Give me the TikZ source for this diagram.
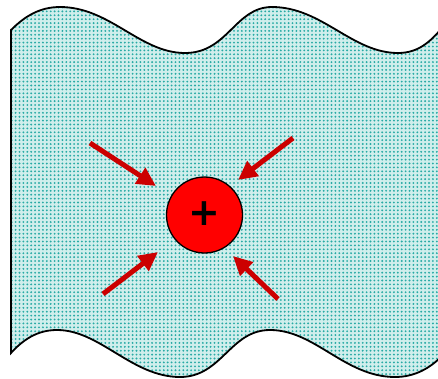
\documentclass[tikz,border=0pt]{standalone}
\usepackage{fontspec}
\newfontfamily\plusfont{DejaVu Sans Bold}
\usetikzlibrary{patterns.meta,arrows.meta}
\definecolor{dotteal}{RGB}{40,170,165}
\definecolor{paleteal}{RGB}{208,238,236}
\definecolor{arrowred}{RGB}{204,0,0}
\definecolor{ionred}{RGB}{255,0,0}
\tikzset{
  pusharrow/.style={draw=arrowred,line width=5pt,-{Triangle[length=19pt,width=18pt]},shorten >=0pt},
  waterbody/.style={preaction={fill=paleteal},pattern={Dots[distance=3.9pt,radius=1.05pt]},pattern color=dotteal,draw=black,line width=1.8pt},
  ion/.style={circle,fill=ionred,draw=black,line width=1.3pt,minimum size=76pt,inner sep=0pt}
}
\begin{document}
\begin{tikzpicture}[x=1pt,y=-1pt]
\useasboundingbox (0,0) rectangle (438,378);
\begin{scope}
\clip (0,0) rectangle (438,378);
\path[waterbody] (11,30) .. controls (25,16) and (40,7) .. (60,7)
  .. controls (110,7) and (140,53) .. (185,53)
  .. controls (228,53) and (235,7) .. (272,7)
  .. controls (322,7) and (352,53) .. (398,53)
  .. controls (418,53) and (430,42) .. (442,28)
  -- (442,356)
  .. controls (430,368) and (415,377) .. (395,377)
  .. controls (345,377) and (315,330) .. (270,330)
  .. controls (230,330) and (222,377) .. (180,377)
  .. controls (132,377) and (100,330) .. (57,330)
  .. controls (36,330) and (22,341) .. (11,353) -- cycle;
\end{scope}
\node[ion] (ion) at (204.5,215) {};
\node (plus) at (204.5,214) {\plusfont\fontsize{38}{38}\selectfont +};
\coordinate (a1s) at (90,143);
\coordinate (a1e) at (156,186);
\coordinate (a2s) at (293,138);
\coordinate (a2e) at (238,180);
\coordinate (a3s) at (103,294);
\coordinate (a3e) at (158,252);
\coordinate (a4s) at (278,299);
\coordinate (a4e) at (233,256);
\draw[pusharrow] (a1s) -- (a1e);
\draw[pusharrow] (a2s) -- (a2e);
\draw[pusharrow] (a3s) -- (a3e);
\draw[pusharrow] (a4s) -- (a4e);
\end{tikzpicture}
\end{document}
